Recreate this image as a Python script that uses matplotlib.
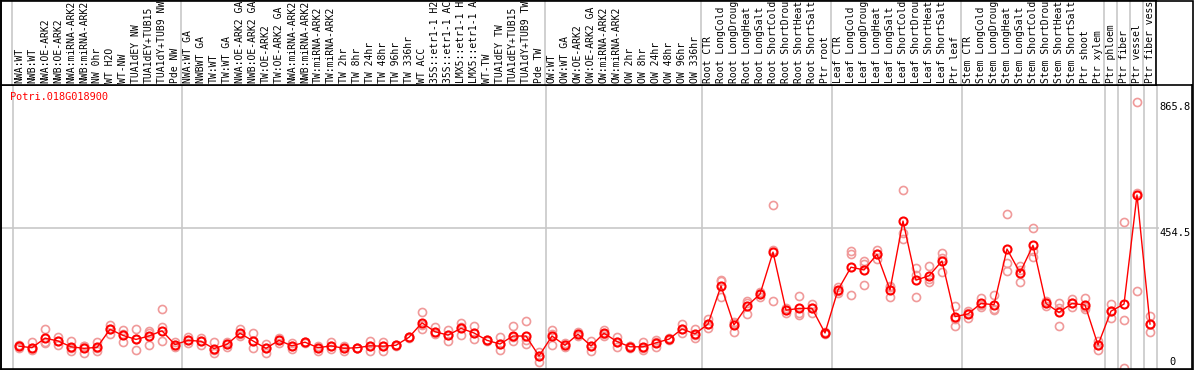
import matplotlib
matplotlib.use("Agg")
import matplotlib.pyplot as plt
from matplotlib.patches import Rectangle

W, H = 1194, 370

gene = "Potri.018G018900"

# sample names, cut to 14 characters as in the source chart
samples = [
    "NWA:WT", "NWB:WT", "NWA:OE-ARK2", "NWB:OE-ARK2", "NWA:miRNA-ARK2", "NWB:miRNA-ARK2",
    "NW 0hr", "WT H2O", "WT-NW", "TUA1dEY NW", "TUA1dEY+TUB15", "TUA1dY+TUB9 NW", "Pde NW",
    "NWA:WT GA", "NWBWT GA", "TW:WT", "TW:WT GA", "NWA:OE-ARK2 GA", "NWB:OE-ARK2 GA",
    "TW:OE-ARK2", "TW:OE-ARK2 GA", "NWA:miRNA-ARK2", "NWB:miRNA-ARK2", "TW:miRNA-ARK2",
    "TW:miRNA-ARK2", "TW 2hr", "TW 8hr", "TW 24hr", "TW 48hr", "TW 96hr", "TW 336hr",
    "WT ACC", "35S::etr1-1 H2", "35S::etr1-1 AC", "LMX5::etr1-1 H", "LMX5::etr1-1 A",
    "WT-TW", "TUA1dEY TW", "TUA1dEY+TUB15", "TUA1dY+TUB9 TW", "Pde TW",
    "OW:WT", "OW:WT GA", "OW:OE-ARK2", "OW:OE-ARK2 GA", "OW:miRNA-ARK2", "OW:miRNA-ARK2",
    "OW 2hr", "OW 8hr", "OW 24hr", "OW 48hr", "OW 96hr", "OW 336hr",
    "Root CTR", "Root LongCold", "Root LongDroug", "Root LongHeat", "Root LongSalt",
    "Root ShortCold", "Root ShortDrou", "Root ShortHeat", "Root ShortSalt", "Ptr root",
    "Leaf CTR", "Leaf LongCold", "Leaf LongDroug", "Leaf LongHeat", "Leaf LongSalt",
    "Leaf ShortCold", "Leaf ShortDrou", "Leaf ShortHeat", "Leaf ShortSalt", "Ptr leaf",
    "Stem CTR", "Stem LongCold", "Stem LongDroug", "Stem LongHeat", "Stem LongSalt",
    "Stem ShortCold", "Stem ShortDrou", "Stem ShortHeat", "Stem ShortSalt", "Ptr shoot",
    "Ptr xylem", "Ptr phloem", "Ptr fiber", "Ptr vessel", "Ptr fiber vess",
]

# number of samples between the grey separators
group_sizes = [13, 28, 12, 10, 10, 11, 1, 1, 1, 1]

mean_expr = [
    71, 66, 97, 88, 69, 64, 67, 126, 106, 93, 104, 121, 76,
    90, 87, 63, 77, 113, 88, 64, 90, 72, 84, 66, 72, 64, 66, 72, 71, 74, 100,
    147, 118, 107, 129, 114, 90, 78, 104, 104, 39,
    104, 74, 110, 72, 113, 86, 69, 69, 82, 94, 127, 111,
    143, 267, 140, 202, 240, 377, 188, 194, 194, 114,
    254, 328, 319, 370, 254, 478, 286, 300, 348, 167,
    176, 210, 206, 387, 310, 399, 210, 181, 210, 205,
    75, 185, 208, 563, 143,
]

rep_expr = [
    (74, 66, 71), (84, 59, 66), (126, 80, 85), (102, 74, 88), (88, 56, 64), (72, 50, 70),
    (84, 56, 64), (140, 110, 126), (124, 84, 110), (126, 58, 93), (121, 75, 113),
    (192, 134, 88), (84, 69, 75),
    (100, 90, 82), (97, 75, 88), (86, 50, 60), (86, 69, 77), (126, 110, 104), (113, 64, 88),
    (77, 50, 64), (97, 80, 90), (80, 72, 63), (86, 80, 84), (72, 56, 66), (84, 62, 72),
    (72, 54, 64), (66, 66, 66), (88, 56, 72), (86, 56, 70), (76, 72, 74), (100, 98, 102),
    (183, 126, 140), (134, 110, 118), (124, 88, 108), (147, 107, 132), (137, 93, 114),
    (92, 88, 90), (100, 59, 78), (137, 88, 100), (153, 91, 78), (53, 20, 40),
    (124, 75, 110), (80, 68, 74), (110, 104, 116), (88, 56, 72), (124, 104, 110),
    (102, 69, 86), (72, 64, 70), (86, 64, 60), (91, 69, 86), (97, 91, 94),
    (142, 113, 126), (128, 97, 107),
    (158, 129, 143), (286, 232, 282), (151, 118, 145), (218, 176, 210), (248, 232, 240),
    (530, 218, 384), (195, 180, 188), (234, 171, 178), (208, 178, 196), (116, 112, 114),
    (264, 245, 252), (380, 372, 238), (349, 270, 338), (384, 372, 356), (267, 230, 262),
    (579, 438, 419), (324, 232, 302), (332, 280, 290), (375, 311, 358), (202, 137, 160),
    (185, 164, 178), (229, 199, 204), (238, 189, 192), (501, 343, 317), (333, 279, 318),
    (455, 362, 380), (218, 203, 210), (212, 137, 195), (224, 198, 210), (229, 191, 200),
    (89, 59, 76), (207, 164, 184), (475, 156, 0), (866, 252, 570), (170, 118, 143),
]

y_ticks = [0, 454.5, 865.8]

red = "#ff0000"
pink = "#f09a9a"
grey = "#c8c8c8"
mono = "DejaVu Sans Mono"

fig = plt.figure(figsize=(W / 100, H / 100), dpi=100)


def px_box(x0, y0, x1, y1):
    # pixel box (top-left origin) -> figure fraction rect
    return [x0 / W, 1 - y1 / H, (x1 - x0) / W, (y1 - y0) / H]


# x in sample units: sample 0 at px 19, 13 px per sample
def px_to_x(px):
    return (px - 19) / 13


ax = fig.add_axes(px_box(1, 85, 1192, 369))
ax_lab = fig.add_axes(px_box(1, 0, 1156, 85))

ax.set_xlim(px_to_x(1), px_to_x(1192))
ax_lab.set_xlim(px_to_x(1), px_to_x(1156))
# value 0 at px 368, 454.5 at px 228.3
scale = (368 - 228.3) / 454.5
ax.set_ylim(-(369 - 368) / scale, (368 - 85) / scale)
ax_lab.set_ylim(0, 1)

for a in (ax, ax_lab):
    a.set_xticks([])
    a.set_yticks([])
    for s in a.spines.values():
        s.set_color("black")
        s.set_linewidth(1.2)

# group separators
pos = -0.5
seps = [pos]
for n in group_sizes:
    pos += n
    seps.append(pos)
for s in seps:
    ax.axvline(s, color=grey, lw=1.2, zorder=0)
    ax_lab.axvline(s, color=grey, lw=1.2, zorder=0)

ax.hlines(y_ticks[1], px_to_x(1), px_to_x(1159), color=grey, lw=1.2, zorder=0)

xs = list(range(len(samples)))

# replicate points
for i, reps in enumerate(rep_expr):
    ax.plot([i] * len(reps), reps, linestyle="none", marker="o", ms=5.8,
            mfc="none", mec=pink, mew=1.2, zorder=2, clip_on=False)

ax.plot(xs, mean_expr, color=red, lw=1, marker="o", ms=5.8, mfc="none",
        mec=red, mew=1.5, zorder=3)

# sample labels, rotated, bottom aligned
for i, name in enumerate(samples):
    ax_lab.text(i, 2 / 85, name, rotation=90, ha="center", va="bottom",
                family=mono, fontsize=7.0, color="black")

fig.text(10 / W, 1 - 97 / H, gene, color=red, family=mono, fontsize=7.4,
         ha="left", va="center")

ax.text(px_to_x(1159), y_ticks[2], "865.8", family=mono, fontsize=7.5,
        ha="left", va="top", clip_on=False)
ax.text(px_to_x(1159), y_ticks[1], "454.5", family=mono, fontsize=7.5,
        ha="left", va="top", clip_on=False)
ax.text(px_to_x(1169), 19.5, "0", family=mono, fontsize=7.5,
        ha="left", va="center", clip_on=False)

fig.add_artist(Rectangle((0.5 / W, 0.5 / H), 1 - 1.5 / W, 1 - 1.5 / H,
                         transform=fig.transFigure, fill=False,
                         edgecolor="black", lw=1.2))

fig.savefig("out.png", dpi=100)
